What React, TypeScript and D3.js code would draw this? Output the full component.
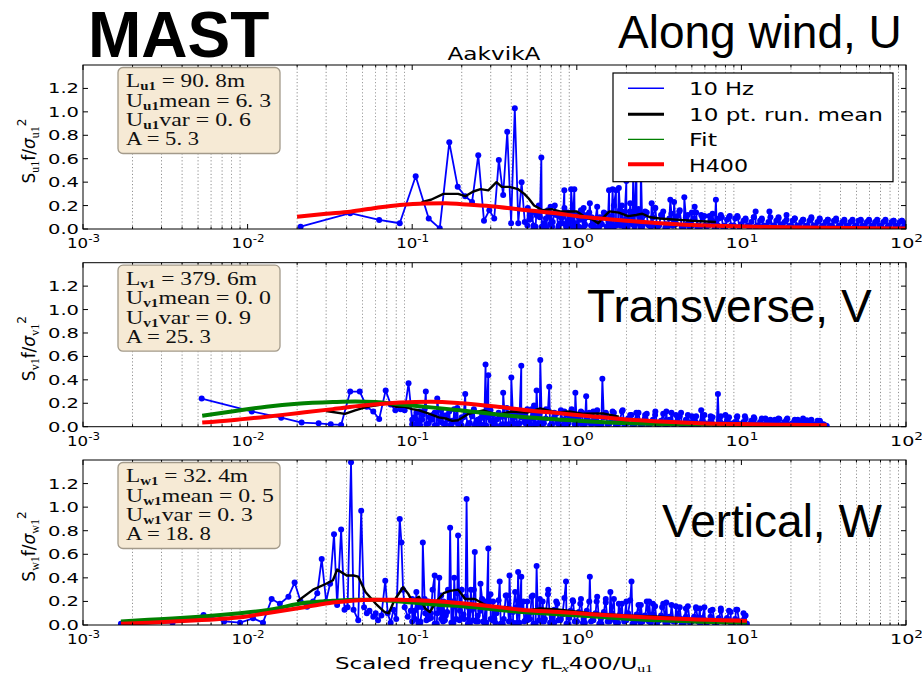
import React from "react";
import * as d3 from "d3";

type Pt = [number, number];

// ---------------- data ----------------
const yTickValues = [0, 0.2, 0.4, 0.6, 0.8, 1.0, 1.2];
const xTickExponents = [-3, -2, -1, 0, 1, 2];
const legendLabels = ["10 Hz", "10 pt. run. mean", "Fit", "H400"];
const componentNames = ["u1", "v1", "w1"];
const panelTitles = ["Along wind, U", "Transverse, V", "Vertical, W"];
const lengthScales = [90.8, 379.6, 32.4];
const meanValues = [6.3, 0.0, 0.5];
const varValues = [0.6, 0.9, 0.3];
const aValues = [5.3, 25.3, 18.8];

const blueU: Pt[] = [
  [0.021,0.02],[0.042,0.135],[0.063,0.077],[0.084,0.049],[0.105,0.45],[0.126,0.09],[0.147,0.006],[0.168,0.74],[0.189,0.36],[0.21,0.28],
  [0.231,0.23],[0.252,0.63],[0.273,0.07],[0.294,0.16],[0.315,0.09],[0.336,0.59],[0.357,0.29],[0.378,0.83],[0.399,0.05],[0.42,1.03],
  [0.441,0.05],[0.462,0.4],[0.483,0.06],[0.504,0.18],[0.525,0.1],[0.546,0.03],[0.567,0.12],[0.588,0.2],[0.609,0.61],[0.63,0.05],
  [0.651,0.01],[0.672,0.12],[0.693,0.19],[0.714,0.06],[0.735,0.2],[0.756,0.13],[0.777,0.03],[0.798,0.1],[0.819,0.05],[0.84,0.33],
  [0.861,0.02],[0.882,0.14],[0.903,0.06],[0.924,0.34],[0.945,0.02],[0.966,0.34],[0.987,0.05],[1.01,0.12],[1.03,0.02],[1.05,0.08],
  [1.07,0.15],[1.1,0.18],[1.12,0.04],[1.15,0.1],[1.2,0.22],[1.23,0.1],[1.26,0.02],[1.3,0.06],[1.34,0.01],[1.38,0.1],
  [1.42,0.04],[1.47,0.12],[1.52,0.02],[1.57,0.33],[1.6,0.05],[1.65,0.34],[1.68,0.02],[1.73,0.33],[1.76,0.06],[1.8,0.35],
  [1.84,0.03],[1.88,0.2],[1.92,0.05],[2.0,0.41],[2.04,0.02],[2.1,0.15],[2.15,0.05],[2.2,0.47],[2.25,0.03],[2.3,0.6],
  [2.35,0.05],[2.45,0.55],[2.5,0.02],[2.6,0.15],[2.7,0.04],[2.85,0.22],[2.9,0.03],[3.0,0.18],[3.1,0.02],[3.3,0.12],
  [3.5,0.04],[3.7,0.25],[3.8,0.03],[3.9,0.23],[4.0,0.05],[4.2,0.15],[4.4,0.02],[4.5,0.27],[4.7,0.04],[5.0,0.14],
  [5.2,0.19],[5.4,0.02],[5.7,0.12],[6.0,0.03],[6.4,0.11],[6.8,0.04],[7.0,0.25],[7.2,0.03],[7.6,0.1],[8.0,0.02],
  [8.5,0.11],[9.0,0.03],[9.5,0.1],[10,0.04],[10.6,0.08],[11.2,0.02],[11.9,0.1],[12.2,0.15],[12.6,0.03],[13.3,0.09],
  [14.1,0.02],[14.8,0.15],[15.8,0.03],[16.8,0.1],[17.8,0.02],[18.8,0.12],[20,0.03],[21.1,0.09],[22.4,0.02],[23.7,0.08],
  [25.1,0.03],[26.6,0.1],[28.2,0.02],[29.9,0.09],[31.6,0.02],[33.5,0.08],[35.5,0.03],[37.6,0.07],[39.8,0.02],[42.2,0.08],
  [44.7,0.02],[47.3,0.07],[50.1,0.03],[53.1,0.08],[56.2,0.02],[59.6,0.07],[63.1,0.03],[66.8,0.08],[70.8,0.02],[75,0.07],
  [79.4,0.03],[84.1,0.07],[89.1,0.02],[94.4,0.07],[100,0.05]
];
const blackU: Pt[] = [
  [0.114,0.23],[0.13,0.25],[0.155,0.3],[0.19,0.3],[0.21,0.28],[0.235,0.32],[0.26,0.34],[0.29,0.33],[0.325,0.4],[0.35,0.36],
  [0.39,0.36],[0.44,0.34],[0.48,0.3],[0.51,0.26],[0.55,0.2],[0.62,0.16],[0.7,0.17],[0.79,0.15],[0.87,0.15],[1.0,0.15],
  [1.13,0.1],[1.25,0.08],[1.35,0.05],[1.45,0.1],[1.58,0.15],[1.8,0.14],[2.05,0.11],[2.3,0.12],[2.5,0.13],[2.8,0.1],
  [3.2,0.09],[4,0.08],[5,0.07],[7,0.06]
];
const greenU: Pt[] = [
  [0.02,0.1],[0.042,0.145],[0.084,0.2],[0.15,0.215],[0.3,0.19],[0.5,0.155],[1,0.105],[2,0.068],[3,0.05],[10,0.02],[30,0.01],[100,0.005]
];
const redU: Pt[] = [
  [0.02,0.105],[0.03,0.13],[0.042,0.148],[0.06,0.18],[0.084,0.205],[0.12,0.218],[0.16,0.22],[0.2,0.212],[0.3,0.195],[0.5,0.16],
  [0.79,0.13],[1.0,0.11],[1.39,0.09],[2,0.07],[3.2,0.05],[5,0.035],[8.1,0.025],[15,0.017],[30,0.011],[60,0.007],[100,0.005]
];

const blueV: Pt[] = [
  [0.00526,0.24],[0.0106,0.13],[0.016,0.077],[0.0213,0.035],[0.027,0.029],[0.032,0.02],[0.037,0.015],[0.042,0.3],[0.048,0.3],[0.053,0.17],
  [0.058,0.13],[0.063,0.066],[0.069,0.31],[0.074,0.19],[0.079,0.14],[0.085,0.15],[0.09,0.14],[0.095,0.37],[0.1,0.06],[0.106,0.02],
  [0.111,0.13],[0.116,0.1],[0.121,0.3],[0.127,0.08],[0.132,0.06],[0.137,0.12],[0.142,0.24],[0.148,0.04],[0.153,0.1],[0.158,0.02],
  [0.164,0.06],[0.17,0.01],[0.175,0.05],[0.18,0.15],[0.19,0.02],[0.2,0.08],[0.21,0.28],[0.22,0.03],[0.23,0.1],[0.24,0.01],
  [0.25,0.06],[0.26,0.02],[0.27,0.08],[0.279,0.53],[0.29,0.44],[0.3,0.05],[0.31,0.1],[0.32,0.01],[0.34,0.08],[0.357,0.29],
  [0.37,0.02],[0.385,0.1],[0.4,0.42],[0.415,0.03],[0.43,0.12],[0.445,0.02],[0.46,0.52],[0.48,0.04],[0.5,0.15],[0.52,0.02],
  [0.55,0.18],[0.57,0.31],[0.585,0.03],[0.6,0.57],[0.62,0.05],[0.65,0.15],[0.68,0.34],[0.7,0.02],[0.73,0.12],[0.76,0.04],
  [0.8,0.14],[0.84,0.02],[0.88,0.1],[0.93,0.15],[0.98,0.29],[1.02,0.03],[1.08,0.12],[1.14,0.26],[1.2,0.04],[1.26,0.13],
  [1.33,0.02],[1.43,0.41],[1.5,0.12],[1.58,0.03],[1.65,0.13],[1.75,0.05],[1.9,0.14],[2.0,0.03],[2.15,0.1],[2.3,0.12],
  [2.45,0.02],[2.6,0.1],[2.8,0.04],[3.0,0.13],[3.2,0.03],[3.5,0.13],[3.7,0.04],[4.0,0.1],[4.3,0.12],[4.6,0.02],
  [5.0,0.09],[5.3,0.03],[5.7,0.14],[6.0,0.03],[6.5,0.09],[7.2,0.28],[7.5,0.03],[8.0,0.1],[8.7,0.02],[9.4,0.08],
  [10.5,0.09],[11.2,0.02],[12,0.07],[13,0.03],[14,0.07],[15,0.02],[16,0.06],[17,0.065],[18,0.02],[19,0.07],
  [20.5,0.03],[22,0.06],[23.5,0.02],[25,0.055],[27,0.02],[29,0.05],[30,0.045],[31.5,0.02],[33,0.005]
];
const blackV: Pt[] = [
  [0.03,0.134],[0.039,0.11],[0.045,0.14],[0.053,0.17],[0.062,0.185],[0.07,0.2],[0.08,0.17],[0.09,0.17],[0.1,0.15],[0.11,0.14],
  [0.125,0.114],[0.145,0.08],[0.16,0.07],[0.175,0.05],[0.19,0.055],[0.22,0.11],[0.27,0.14],[0.33,0.1],[0.4,0.13],[0.5,0.12],
  [0.6,0.157],[0.75,0.12],[0.9,0.13],[1.1,0.11],[1.44,0.114],[1.8,0.085]
];
const greenV: Pt[] = [
  [0.0053,0.094],[0.008,0.13],[0.013,0.17],[0.02,0.195],[0.033,0.21],[0.045,0.215],[0.06,0.21],[0.084,0.19],[0.13,0.165],[0.2,0.138],
  [0.33,0.105],[0.52,0.078],[0.8,0.06],[1.2,0.045],[2.1,0.03],[5,0.02],[10,0.014],[33,0.008]
];
const redV: Pt[] = [
  [0.0053,0.035],[0.008,0.055],[0.013,0.085],[0.02,0.115],[0.033,0.15],[0.05,0.18],[0.084,0.207],[0.13,0.214],[0.2,0.2],[0.33,0.17],
  [0.5,0.14],[0.79,0.114],[1.2,0.09],[2,0.062],[3.5,0.042],[5.6,0.03],[10,0.022],[20,0.016],[33,0.013]
];

const blueW: Pt[] = [
  [0.0017,0.01],[0.0035,0.02],[0.0054,0.085],[0.0072,0.03],[0.009,0.02],[0.0108,0.057],[0.0124,0.02],[0.014,0.22],[0.0157,0.18],[0.0177,0.24],
  [0.0193,0.36],[0.021,0.2],[0.023,0.155],[0.025,0.2],[0.0265,0.27],[0.0282,0.56],[0.03,0.2],[0.0317,0.35],[0.0335,0.77],[0.035,0.17],
  [0.037,0.81],[0.0388,0.13],[0.0405,0.15],[0.0425,1.38],[0.044,0.13],[0.047,0.04],[0.049,0.97],[0.051,0.15],[0.053,0.1],[0.055,0.12],
  [0.058,0.07],[0.06,0.1],[0.062,0.04],[0.065,0.08],[0.0686,0.376],[0.071,0.1],[0.074,0.02],[0.077,0.13],[0.08,0.05],[0.084,0.9],
  [0.086,0.7],[0.088,0.3],[0.09,0.15],[0.094,0.07],[0.098,0.12],[0.1,0.22],[0.104,0.05],[0.108,0.15],[0.112,0.03],[0.116,0.7],
  [0.12,0.1],[0.125,0.2],[0.13,0.06],[0.137,0.42],[0.142,0.1],[0.146,0.4],[0.15,0.05],[0.155,0.2],[0.16,0.08],[0.165,0.3],
  [0.17,0.825],[0.175,0.2],[0.18,0.4],[0.185,0.05],[0.19,0.76],[0.195,0.12],[0.2,0.3],[0.207,0.05],[0.214,1.07],[0.22,0.15],
  [0.227,0.3],[0.234,0.04],[0.24,0.62],[0.25,0.08],[0.26,0.35],[0.27,0.03],[0.28,0.2],[0.29,0.65],[0.3,0.05],[0.31,0.2],
  [0.32,0.02],[0.34,0.37],[0.36,0.05],[0.37,0.25],[0.39,0.42],[0.41,0.02],[0.43,0.15],[0.44,0.45],[0.46,0.41],[0.48,0.03],
  [0.5,0.2],[0.52,0.05],[0.54,0.25],[0.57,0.5],[0.59,0.04],[0.62,0.2],[0.64,0.05],[0.67,0.3],[0.7,0.1],[0.73,0.02],
  [0.76,0.18],[0.8,0.05],[0.86,0.37],[0.9,0.06],[0.95,0.2],[1.0,0.03],[1.05,0.18],[1.1,0.05],[1.2,0.41],[1.25,0.04],
  [1.32,0.2],[1.4,0.05],[1.5,0.22],[1.6,0.28],[1.7,0.04],[1.8,0.18],[1.9,0.06],[2.0,0.2],[2.15,0.37],[2.3,0.04],
  [2.45,0.17],[2.6,0.05],[2.75,0.2],[2.9,0.18],[3.1,0.03],[3.3,0.15],[3.5,0.19],[3.7,0.04],[4.0,0.16],[4.3,0.05],
  [4.6,0.14],[5.0,0.03],[5.3,0.15],[5.6,0.14],[6.0,0.04],[6.5,0.12],[7.0,0.03],[7.5,0.12],[8.0,0.04],[8.6,0.11],
  [9.3,0.13],[9.8,0.03],[10.3,0.1],[10.8,0.01]
];
const blackW: Pt[] = [
  [0.02,0.2],[0.025,0.3],[0.03,0.35],[0.033,0.38],[0.035,0.47],[0.04,0.42],[0.044,0.42],[0.047,0.41],[0.052,0.28],[0.061,0.17],
  [0.068,0.11],[0.072,0.1],[0.078,0.21],[0.088,0.32],[0.095,0.26],[0.1,0.2],[0.11,0.24],[0.12,0.14],[0.128,0.11],[0.14,0.2],
  [0.155,0.27],[0.17,0.29],[0.19,0.3],[0.21,0.22],[0.24,0.22],[0.27,0.18],[0.31,0.14],[0.38,0.15],[0.44,0.11],[0.6,0.14],
  [0.79,0.13],[1.2,0.1],[2,0.08],[3.2,0.07],[5,0.05],[10.8,0.02]
];
const greenW: Pt[] = [
  [0.0017,0.03],[0.0025,0.045],[0.0035,0.055],[0.0051,0.07],[0.009,0.1],[0.013,0.125],[0.023,0.19],[0.033,0.205],[0.045,0.215],[0.058,0.215],
  [0.084,0.2],[0.147,0.17],[0.2,0.16],[0.46,0.11],[0.79,0.09],[1.5,0.065],[3.2,0.04],[5,0.03],[10.8,0.02]
];
const redW: Pt[] = [
  [0.0017,0.01],[0.0025,0.02],[0.0035,0.03],[0.005,0.04],[0.0075,0.055],[0.009,0.065],[0.013,0.1],[0.023,0.155],[0.033,0.19],[0.058,0.215],
  [0.084,0.215],[0.147,0.2],[0.2,0.185],[0.3,0.16],[0.46,0.13],[0.79,0.11],[1.3,0.09],[2,0.075],[3.2,0.06],[5,0.048],[10.8,0.035]
];

// dense high-frequency band of the 10 Hz spectra: two interleaved frequency grids, null = no sample
const bandFreqsA = [
  0.1,0.106,0.112,0.119,0.126,0.133,0.141,0.15,0.158,0.168,0.178,0.188,0.2,0.211,0.224,0.237,0.251,0.266,0.282,0.299,
  0.316,0.335,0.355,0.376,0.398,0.422,0.447,0.473,0.501,0.531,0.562,0.596,0.631,0.668,0.708,0.75,0.794,0.841,0.891,0.944,
  1.0,1.06,1.12,1.19,1.26,1.33,1.41,1.5,1.58,1.68,1.78,1.88,2.0,2.11,2.24,2.37,2.51,2.66,2.82,2.99,
  3.16,3.35,3.55,3.76,3.98,4.22,4.47,4.73,5.01,5.31,5.62,5.96,6.31,6.68,7.08,7.5,7.94,8.41,8.91,9.44,
  10,10.6,11.2,11.9,12.6,13.3,14.1,15,15.8,16.8,17.8,18.8,20,21.1,22.4,23.7,25.1,26.6,28.2,29.9,
  31.6,33.5,35.5,37.6,39.8,42.2,44.7,47.3,50.1,53.1,56.2,59.6,63.1,66.8,70.8,75,79.4,84.1,89.1,94.4,100
];
const bandFreqsB = [
  0.103,0.109,0.115,0.122,0.13,0.137,0.146,0.154,0.163,0.173,0.183,0.194,0.205,0.218,0.231,0.244,0.259,0.274,0.29,0.307,
  0.325,0.345,0.365,0.387,0.41,0.434,0.46,0.487,0.516,0.546,0.579,0.613,0.649,0.688,0.729,0.772,0.818,0.866,0.917,0.972,
  1.03,1.09,1.15,1.22,1.3,1.37,1.46,1.54,1.63,1.73,1.83,1.94,2.05,2.18,2.31,2.44,2.59,2.74,2.9,3.07,
  3.25,3.45,3.65,3.87,4.1,4.34,4.6,4.87,5.16,5.46,5.79,6.13,6.49,6.88,7.29,7.72,8.18,8.66,9.17,9.72,
  10.3,10.9,11.5,12.2,13,13.7,14.6,15.4,16.3,17.3,18.3,19.4,20.5,21.8,23.1,24.4,25.9,27.4,29,30.7,
  32.5,34.5,36.5,38.7,41,43.4,46,48.7,51.6,54.6,57.9,61.3,64.9,68.8,72.9,77.2,81.8,86.6,91.7,97.2
];
const n = null;
const bandUA = [
  n,n,n,n,n,n,n,n,n,n,n,n,n,n,n,n,n,n,n,n,
  n,n,n,n,n,n,n,n,0.03,0.14,0.02,0.1,0.04,0.16,0.02,0.12,0.05,0.18,0.03,0.11,
  0.02,0.16,0.03,0.14,0.02,0.19,0.04,0.13,0.02,0.2,0.05,0.15,0.03,0.22,0.02,0.17,0.04,0.14,0.02,0.18,
  0.03,0.15,0.02,0.13,0.04,0.16,0.02,0.12,0.03,0.14,0.02,0.11,0.03,0.13,0.02,0.12,0.03,0.1,0.02,0.11,
  0.03,0.09,0.02,0.1,0.03,0.08,0.02,0.1,0.03,0.09,0.02,0.08,0.03,0.09,0.02,0.08,0.03,0.09,0.02,0.08,
  0.03,0.08,0.02,0.09,0.03,0.07,0.02,0.08,0.03,0.07,0.02,0.08,0.03,0.07,0.02,0.08,0.03,0.07,0.02,0.07,0.04
];
const bandUB = [
  n,n,n,n,n,n,n,n,n,n,n,n,n,n,n,n,n,n,n,n,
  n,n,n,n,n,n,n,n,0.08,0.01,0.12,0.02,0.09,0.04,0.13,0.01,0.1,0.03,0.08,0.02,
  0.1,0.01,0.12,0.03,0.09,0.02,0.14,0.01,0.11,0.03,0.16,0.02,0.1,0.04,0.13,0.01,0.12,0.03,0.1,0.02,
  0.12,0.01,0.09,0.03,0.11,0.02,0.1,0.01,0.09,0.03,0.1,0.02,0.08,0.01,0.09,0.02,0.08,0.03,0.09,0.02,
  0.07,0.03,0.06,0.02,0.07,0.03,0.06,0.02,0.07,0.04,0.06,0.02,0.07,0.03,0.06,0.02,0.07,0.03,0.06,0.02,
  0.06,0.03,0.07,0.02,0.06,0.03,0.06,0.02,0.07,0.03,0.06,0.02,0.06,0.03,0.06,0.02,0.06,0.03,0.06,0.02
];
const bandVA = [
  0.02,0.12,0.01,0.15,0.03,0.1,0.01,0.14,0.02,0.13,0.04,0.16,0.01,0.12,0.03,0.15,0.02,0.1,0.01,0.14,
  0.03,0.12,0.02,0.16,0.01,0.13,0.03,0.11,0.02,0.15,0.01,0.12,0.03,0.14,0.02,0.11,0.01,0.13,0.03,0.12,
  0.02,0.13,0.02,0.12,0.03,0.14,0.01,0.11,0.03,0.12,0.02,0.13,0.03,0.1,0.02,0.12,0.01,0.11,0.03,0.1,
  0.02,0.11,0.01,0.12,0.03,0.09,0.02,0.1,0.01,0.09,0.03,0.1,0.02,0.08,0.01,0.09,0.02,0.08,0.03,0.09,
  0.02,0.07,0.02,0.08,0.01,0.07,0.02,0.06,0.01,0.07,0.02,0.06,0.01,0.06,0.02,0.07,0.01,0.06,0.02,0.05,
  0.01,n,n,n,n,n,n,n,n,n,n,n,n,n,n,n,n,n,n,n,n
];
const bandVB = [
  0.08,0.01,0.06,0.02,0.09,0.01,0.07,0.03,0.1,0.01,0.06,0.02,0.08,0.01,0.09,0.03,0.07,0.01,0.08,0.02,
  0.06,0.01,0.09,0.02,0.07,0.01,0.08,0.03,0.06,0.01,0.09,0.02,0.07,0.01,0.08,0.02,0.06,0.01,0.07,0.02,
  0.08,0.01,0.07,0.02,0.06,0.01,0.08,0.02,0.07,0.01,0.06,0.02,0.07,0.01,0.06,0.02,0.07,0.01,0.06,0.02,
  0.05,0.01,0.06,0.02,0.05,0.01,0.06,0.02,0.05,0.01,0.05,0.02,0.05,0.01,0.04,0.02,0.05,0.01,0.04,0.02,
  0.04,0.01,0.05,0.02,0.04,0.01,0.04,0.02,0.04,0.01,0.04,0.02,0.03,0.01,0.04,0.02,0.03,0.01,0.03,0.02,
  0.01,n,n,n,n,n,n,n,n,n,n,n,n,n,n,n,n,n,n,n
];
const bandWA = [
  0.03,0.28,0.02,0.22,0.05,0.3,0.01,0.25,0.04,0.2,0.02,0.27,0.06,0.24,0.01,0.3,0.03,0.22,0.02,0.26,
  0.05,0.21,0.01,0.25,0.03,0.28,0.02,0.2,0.04,0.24,0.01,0.22,0.03,0.26,0.02,0.2,0.04,0.23,0.01,0.21,
  0.03,0.22,0.02,0.2,0.04,0.24,0.01,0.19,0.03,0.22,0.02,0.18,0.04,0.21,0.01,0.17,0.03,0.2,0.02,0.16,
  0.04,0.18,0.01,0.17,0.03,0.15,0.02,0.16,0.04,0.14,0.01,0.15,0.03,0.13,0.02,0.14,0.03,0.12,0.01,0.13,
  0.02,0.08,n,n,n,n,n,n,n,n,n,n,n,n,n,n,n,n,n,n,
  n,n,n,n,n,n,n,n,n,n,n,n,n,n,n,n,n,n,n,n,n
];
const bandWB = [
  0.12,0.02,0.15,0.04,0.1,0.01,0.14,0.03,0.11,0.02,0.16,0.04,0.09,0.01,0.13,0.03,0.12,0.02,0.15,0.04,
  0.1,0.01,0.14,0.03,0.11,0.02,0.13,0.04,0.1,0.01,0.12,0.03,0.11,0.02,0.13,0.04,0.09,0.01,0.12,0.03,
  0.11,0.02,0.12,0.03,0.1,0.01,0.11,0.03,0.1,0.02,0.09,0.03,0.1,0.01,0.09,0.02,0.08,0.03,0.09,0.01,
  0.08,0.02,0.07,0.03,0.08,0.01,0.07,0.02,0.07,0.03,0.06,0.01,0.07,0.02,0.06,0.03,0.06,0.01,0.05,0.02,
  0.04,n,n,n,n,n,n,n,n,n,n,n,n,n,n,n,n,n,n,n,
  n,n,n,n,n,n,n,n,n,n,n,n,n,n,n,n,n,n,n,n
];

const blueSeries = [blueU, blueV, blueW];
const bandSeriesA = [bandUA, bandVA, bandWA];
const bandSeriesB = [bandUB, bandVB, bandWB];
const blackSeries = [blackU, blackV, blackW];
const greenSeries = [greenU, greenV, greenW];
const redSeries = [redU, redV, redW];

// ---------------- layout ----------------
const W = 922, H = 674;
const X0 = 83, X1 = 906;
const panelTops = [65, 262.7, 460];
const panelBottoms = [229, 426.7, 625];
const titlePos = [
  { x: 618, y: 48 },
  { x: 587, y: 321.7 },
  { x: 662, y: 536.7 },
];
const infoWidths = [
  [119, 145, 125, 73],
  [131, 145, 125, 85],
  [122, 148, 127, 85],
];
const greenWidths = [1.2, 4, 4];

const fmt1 = d3.format(".1f");
const mt = (v: number) => fmt1(v).replace(".", ". ");

const SANS = "DejaVu Sans, sans-serif";
const SERIF = "Liberation Serif, DejaVu Serif, serif";

function toPts(freqs: number[], vals: (number | null)[]): Pt[] {
  const out: Pt[] = [];
  vals.forEach((v, k) => { if (v !== null && k < freqs.length) out.push([freqs[k], v]); });
  return out;
}

function Panel({ i }: { i: number }) {
  const top = panelTops[i], bottom = panelBottoms[i];
  const x = d3.scaleLog().domain([1e-3, 1e2]).range([X0, X1]);
  const y = d3.scaleLinear().domain([0, 1.4]).range([bottom, top]);
  const ln = d3.line<Pt>().x(d => x(d[0])).y(d => y(d[1]));
  const sm = d3.line<Pt>().x(d => x(d[0])).y(d => y(d[1])).curve(d3.curveMonotoneX);
  const ticks = x.ticks();
  const isMajor = (t: number) => Math.abs(Math.log10(t) - Math.round(Math.log10(t))) < 1e-6;
  const minor = ticks.filter(t => !isMajor(t));
  const major = ticks.filter(isMajor);
  const clipId = `clip-${i}`;
  const comp = componentNames[i];
  const blue: Pt[] = blueSeries[i]
    .concat(toPts(bandFreqsA, bandSeriesA[i]))
    .concat(toPts(bandFreqsB, bandSeriesB[i]))
    .sort((a, b) => a[0] - b[0]);
  const bx = 118, by = top + 2.5;
  const lines = [
    { main: "L", rest: ` = ${mt(lengthScales[i])}m` },
    { main: "U", rest: `mean = ${mt(meanValues[i])}` },
    { main: "U", rest: `var = ${mt(varValues[i])}` },
    { main: "A", rest: ` = ${mt(aValues[i])}`, nosub: true },
  ];
  const lineOffsets = [22.3, 41.5, 60.8, 80];
  return (
    <g>
      <defs>
        <clipPath id={clipId}>
          <rect x={X0} y={top} width={X1 - X0} height={bottom - top} />
        </clipPath>
      </defs>
      <rect x={X0} y={top} width={X1 - X0} height={bottom - top} fill="#fff" />
      {minor.map((t, k) => (
        <line key={"g" + k} x1={x(t)} x2={x(t)} y1={top} y2={bottom} stroke="#000" strokeWidth={0.6} strokeDasharray="1.2,2.2" opacity={0.75} />
      ))}
      <g clipPath={`url(#${clipId})`}>
        <path d={ln(blue) || ""} fill="none" stroke="#0000ff" strokeWidth={1.8} strokeLinejoin="round" />
        {blue.map((d, k) => (
          <circle key={"b" + k} cx={x(d[0])} cy={y(d[1])} r={3} fill="#0000ff" />
        ))}
        <path d={ln(blackSeries[i]) || ""} fill="none" stroke="#000" strokeWidth={2.4} strokeLinejoin="round" />
        <path d={sm(greenSeries[i]) || ""} fill="none" stroke="#008000" strokeWidth={greenWidths[i]} />
        <path d={sm(redSeries[i]) || ""} fill="none" stroke="#ff0000" strokeWidth={4} />
      </g>
      <rect x={X0} y={top} width={X1 - X0} height={bottom - top} fill="none" stroke="#000" strokeWidth={1} />
      {major.map((t, k) => (
        <g key={"M" + k}>
          <line x1={x(t)} x2={x(t)} y1={bottom} y2={bottom - 5} stroke="#000" />
          <line x1={x(t)} x2={x(t)} y1={top} y2={top + 5} stroke="#000" />
        </g>
      ))}
      {minor.map((t, k) => (
        <g key={"m" + k}>
          <line x1={x(t)} x2={x(t)} y1={bottom} y2={bottom - 2.5} stroke="#000" />
          <line x1={x(t)} x2={x(t)} y1={top} y2={top + 2.5} stroke="#000" />
        </g>
      ))}
      {yTickValues.map((v, k) => (
        <g key={"y" + k}>
          <line x1={X0} x2={X0 + 5} y1={y(v)} y2={y(v)} stroke="#000" />
          <line x1={X1} x2={X1 - 5} y1={y(v)} y2={y(v)} stroke="#000" />
          <text x={79} y={y(v) + 5} textAnchor="end" fontFamily={SANS} fontSize={14} textLength={31} lengthAdjust="spacingAndGlyphs">{fmt1(v)}</text>
        </g>
      ))}
      {xTickExponents.map((e, k) => (
        <text key={"x" + k} x={x(Math.pow(10, e)) - 16} y={bottom + 19} fontFamily={SANS} fontSize={14} textLength={33} lengthAdjust="spacingAndGlyphs">
          10<tspan dy={-6} fontSize={10}>{e < 0 ? "-" + Math.abs(e) : String(e)}</tspan>
        </text>
      ))}
      <text transform={`translate(35, ${(top + bottom) / 2 + 4}) rotate(-90)`} textAnchor="middle" fontFamily={SANS} fontSize={17}>
        S<tspan dy={4} fontSize={12} fontFamily={SERIF}>{comp}</tspan>
        <tspan dy={-4}>f/</tspan><tspan fontStyle="italic">σ</tspan>
        <tspan dy={4} fontSize={12} fontFamily={SERIF}>{comp}</tspan>
        <tspan dy={-13} fontSize={12}>2</tspan>
      </text>
      <rect x={bx} y={by} width={162} height={86} rx={5} fill="#f6ead5" stroke="#a39a8a" strokeWidth={1.3} />
      {lines.map((l, k) => (
        <text key={"i" + k} x={126} y={top + lineOffsets[k]} fontFamily={SERIF} fontSize={18} textLength={infoWidths[i][k]} lengthAdjust="spacingAndGlyphs" fill="#111">
          {l.main}
          {l.nosub ? null : <tspan dy={3} fontSize={11.5} fontWeight="bold">{comp}</tspan>}
          {l.nosub ? l.rest : <tspan dy={-3}>{l.rest}</tspan>}
        </text>
      ))}
      <text x={titlePos[i].x} y={titlePos[i].y} fontFamily="Liberation Sans, Arial, sans-serif" fontSize={46}>{panelTitles[i]}</text>
    </g>
  );
}

function Legend() {
  const rows = [
    { y: 88.3, color: "#0000ff", w: 1.5, ty: 95, tl: 65 },
    { y: 114.3, color: "#000", w: 3, ty: 120.7, tl: 194 },
    { y: 139.3, color: "#008000", w: 1.3, ty: 146, tl: 28 },
    { y: 164.3, color: "#ff0000", w: 4, ty: 171.7, tl: 59 },
  ];
  return (
    <g>
      <rect x={613} y={73} width={280} height={108.7} fill="#fff" stroke="#000" strokeWidth={1.2} />
      {rows.map((r, k) => (
        <g key={k}>
          <line x1={628} x2={664} y1={r.y} y2={r.y} stroke={r.color} strokeWidth={r.w} />
          <text x={689} y={r.ty} fontFamily={SANS} fontSize={17} textLength={r.tl} lengthAdjust="spacingAndGlyphs">{legendLabels[k]}</text>
        </g>
      ))}
    </g>
  );
}

export default function App() {
  return (
    <svg width={W} height={H} style={{ position: "absolute", left: 0, top: 0, background: "#fff" }}>
      <rect x={0} y={0} width={W} height={H} fill="#fff" />
      {[0, 1, 2].map(i => <Panel key={i} i={i} />)}
      <Legend />
      <text x={494} y={60} textAnchor="middle" fontFamily={SANS} fontSize={17} textLength={93} lengthAdjust="spacingAndGlyphs">AakvikA</text>
      <text x={88} y={57} fontFamily="Liberation Sans, Arial, sans-serif" fontWeight="bold" fontSize={64}>MAST</text>
      <text x={335} y={669} fontFamily={SANS} fontSize={16} textLength={318} lengthAdjust="spacingAndGlyphs">
        Scaled frequency fL<tspan dy={3} fontSize={11} fontStyle="italic" fontFamily={SERIF}>x</tspan>
        <tspan dy={-3}>400/U</tspan><tspan dy={3} fontSize={11} fontFamily={SERIF}>u1</tspan>
      </text>
    </svg>
  );
}
